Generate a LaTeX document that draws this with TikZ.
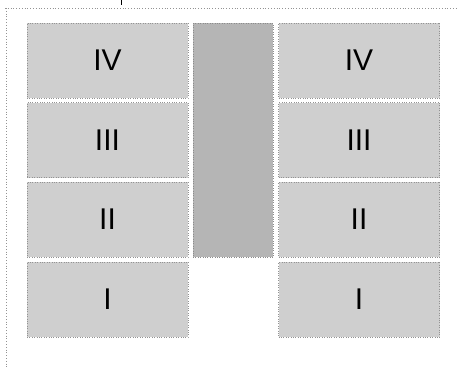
\documentclass[tikz,border=0pt]{standalone}
\usepackage{fontspec}
\setmainfont{Liberation Sans}
\begin{document}
\begin{tikzpicture}[x=1pt,y=-1pt,
  sidebox/.style={rectangle, draw=gray!85, dotted, fill=gray!38, minimum width=161pt, minimum height=75pt, inner sep=0pt, font=\fontsize{30}{30}\selectfont, text=black},
  midbox/.style={rectangle, draw=gray!90, dotted, fill=gray!58, minimum width=80pt, minimum height=234pt, inner sep=0pt},
  frame/.style={draw=gray!85, dotted, line width=0.8pt}]
\useasboundingbox (0,0) rectangle (458,368);
% frame lines
\coordinate (tl) at (5,8);
\coordinate (tr) at (458,8);
\coordinate (bl) at (6,368);
\coordinate (t1) at (121,0);
\coordinate (t2) at (121,5);
\draw[frame] (tl) -- (tr);
\draw[frame] (6,8) -- (bl);
\draw[black, line width=0.9pt] (t1) -- (t2);
% left column
\node[sidebox] (l4) at (107.5,60.5) {IV};
\node[sidebox] (l3) at (107.5,140) {III};
\node[sidebox] (l2) at (107.5,219.5) {II};
\node[sidebox] (l1) at (107.5,299.5) {I};
% middle
\node[midbox] (m) at (233,140) {};
% right column
\node[sidebox] (r4) at (359,60.5) {IV};
\node[sidebox] (r3) at (359,140) {III};
\node[sidebox] (r2) at (359,219.5) {II};
\node[sidebox] (r1) at (359,299.5) {I};
\end{tikzpicture}
\end{document}
